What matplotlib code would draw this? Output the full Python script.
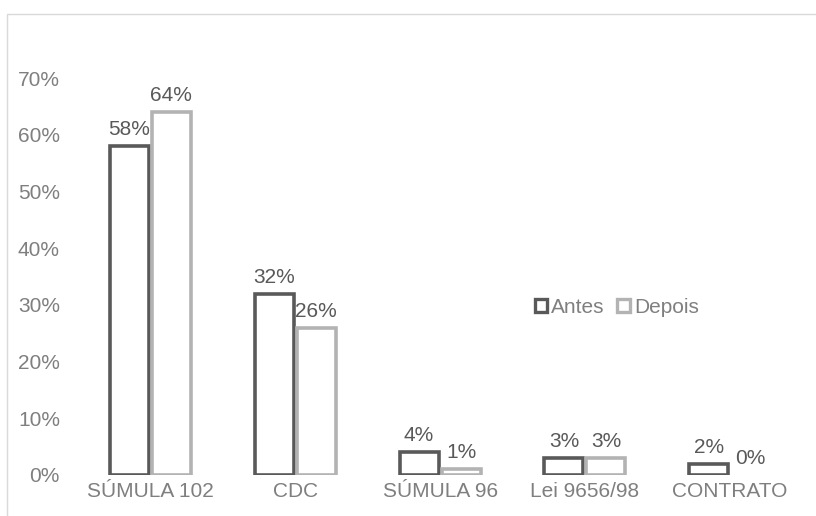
import numpy as np
import matplotlib
matplotlib.use("Agg")
import matplotlib.pyplot as plt
from matplotlib.patches import Rectangle, Patch

categories = ["SÚMULA 102", "CDC", "SÚMULA 96", "Lei 9656/98", "CONTRATO"]
antes = [58, 32, 4, 3, 2]
depois = [64, 26, 1, 3, 0]
series_names = ["Antes", "Depois"]

plt.rcParams["font.family"] = ["Liberation Sans", "DejaVu Sans"]

dark = "#595959"
light = "#b3b3b3"
tick_color = "#7f7f7f"
fs = 15


def main():
    fig = plt.figure(figsize=(8.16, 5.16), dpi=100)
    ax = fig.add_axes([0.0956, 0.0795, 0.8874, 0.769])

    # thin chart frame, partly off the canvas
    fig.patches.append(Rectangle((7 / 816, -0.1), 1.2, 1.1 - 14 / 516,
                                 transform=fig.transFigure, fill=False,
                                 edgecolor="#d9d9d9", linewidth=1))

    x = np.arange(len(categories))
    w = 0.27
    gap = 0.02
    vals = [np.array(antes) / 100, np.array(depois) / 100]
    colors = [dark, light]
    offsets = [-(w + gap) / 2, (w + gap) / 2]

    for v, c, off in zip(vals, colors, offsets):
        bars = ax.bar(x + off, v, width=w, facecolor="white", edgecolor=c,
                      linewidth=2.6)
        for b, val in zip(bars, v):
            if val == 0:
                b.set_linewidth(0)
            ax.annotate(f"{val:.0%}", (b.get_x() + b.get_width() / 2, val),
                        xytext=(0, 5), textcoords="offset points",
                        ha="center", va="bottom", fontsize=fs, color=dark)

    ax.set_xlim(-0.5, len(categories) - 0.5)
    ax.set_ylim(0, 0.7)
    ticks = np.arange(0, 0.71, 0.1)
    ax.set_yticks(ticks)
    ax.set_yticklabels([f"{int(round(t * 100))}%" for t in ticks])
    ax.set_xticks(x)
    ax.set_xticklabels(categories)
    ax.tick_params(axis="both", length=0, labelsize=fs, labelcolor=tick_color)
    ax.tick_params(axis="y", pad=13)
    ax.tick_params(axis="x", pad=5)
    for s in ax.spines.values():
        s.set_visible(False)

    handles = [Patch(facecolor="white", edgecolor=c, linewidth=2.4) for c in colors]
    ax.legend(handles, series_names, loc="center", bbox_to_anchor=(0.744, 0.422),
              ncol=2, frameon=False, fontsize=fs, handlelength=0.6,
              handleheight=0.6, handletextpad=0.2, columnspacing=0.6,
              labelcolor=tick_color)

    fig.savefig("out.png", dpi=100, facecolor="white")


if __name__ == "__main__":
    main()
